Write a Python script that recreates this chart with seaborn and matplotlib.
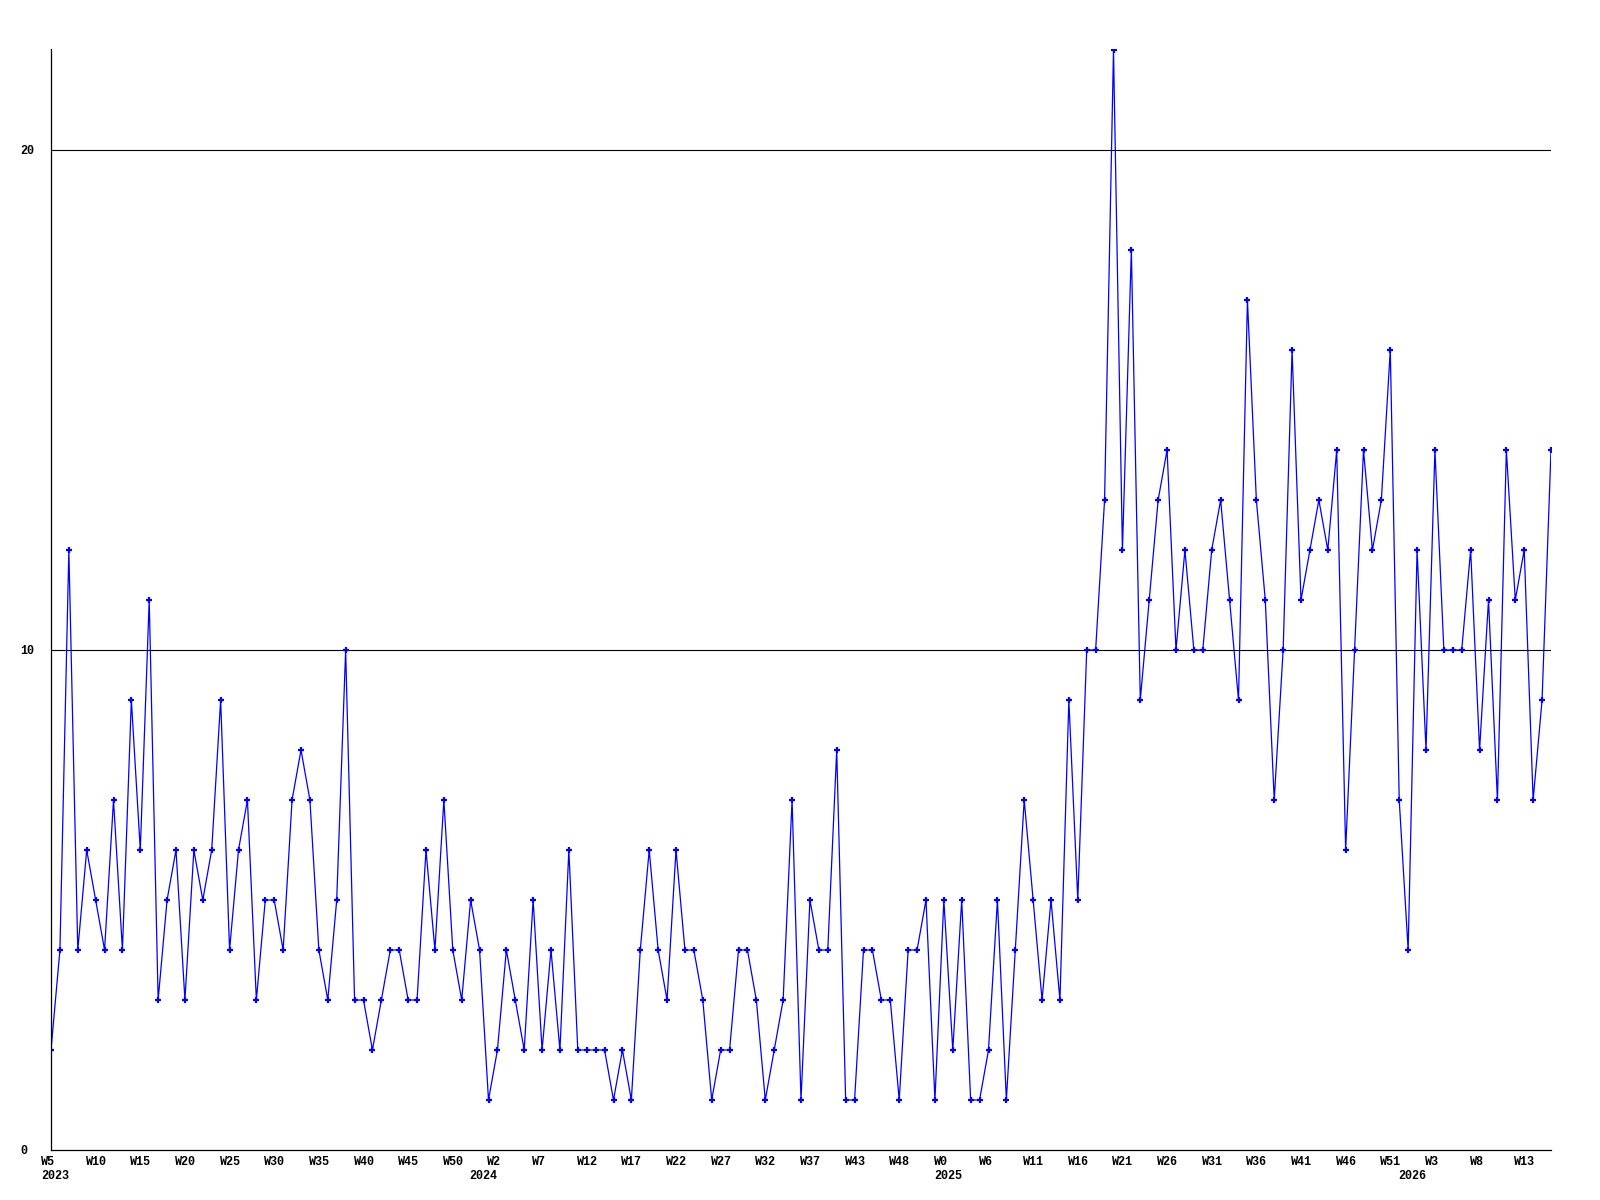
import numpy as np
import pandas as pd
import matplotlib
matplotlib.use("Agg")
import matplotlib.pyplot as plt
import matplotlib.transforms as mtransforms
from matplotlib.transforms import ScaledTranslation
import seaborn as sns

# ---- data ----
values = [2, 4, 12, 4, 6, 5, 4, 7, 4, 9,
          6, 11, 3, 5, 6, 3, 6, 5, 6, 9,
          4, 6, 7, 3, 5, 5, 4, 7, 8, 7,
          4, 3, 5, 10, 3, 3, 2, 3, 4, 4,
          3, 3, 6, 4, 7, 4, 3, 5, 4, 1,
          2, 4, 3, 2, 5, 2, 4, 2, 6, 2,
          2, 2, 2, 1, 2, 1, 4, 6, 4, 3,
          6, 4, 4, 3, 1, 2, 2, 4, 4, 3,
          1, 2, 3, 7, 1, 5, 4, 4, 8, 1,
          1, 4, 4, 3, 3, 1, 4, 4, 5, 1,
          5, 2, 5, 1, 1, 2, 5, 1, 4, 7,
          5, 3, 5, 3, 9, 5, 10, 10, 13, 22,
          12, 18, 9, 11, 13, 14, 10, 12, 10, 10,
          12, 13, 11, 9, 17, 13, 11, 7, 10, 16,
          11, 12, 13, 12, 14, 6, 10, 14, 12, 13,
          16, 7, 4, 12, 8, 14, 10, 10, 10, 12,
          8, 11, 7, 14, 11, 12, 7, 9, 14]

week_labels = ["W5", "W10", "W15", "W20", "W25", "W30", "W35", "W40", "W45", "W50",
               "W2", "W7", "W12", "W17", "W22", "W27", "W32", "W37", "W43", "W48",
               "W0", "W6", "W11", "W16", "W21", "W26", "W31", "W36", "W41", "W46",
               "W51", "W3", "W8", "W13"]
label_step = 5
years = ["2023", "2024", "2025", "2026"]
year_start_idx = [0, 48, 100, 152]
y_ticks = [0, 10, 20]

# ---- style ----
sns.set_theme(style="white")
plt.rcParams["font.family"] = ["Liberation Mono", "DejaVu Sans Mono"]

fig = plt.figure(figsize=(16, 12), dpi=100)
fig.patch.set_facecolor("white")
ax = fig.add_axes([51 / 1600, 50 / 1200, 1500 / 1600, 1101 / 1200])
ax.set_facecolor("white")

df = pd.DataFrame({"idx": np.arange(len(values)), "count": values})

for yv in [10, 20]:
    ax.axhline(yv, color="black", lw=0.8, zorder=0)

sns.lineplot(data=df, x="idx", y="count", ax=ax, color="#0000ff",
             linewidth=0.9, marker="+", markersize=5,
             markeredgewidth=1.6, markeredgecolor="#0000ff")

ax.set_xlim(0, len(values) - 1)
ax.set_ylim(0, 22.02)
ax.set_xlabel("")
ax.set_ylabel("")

for s in ["top", "right"]:
    ax.spines[s].set_visible(False)
for s in ["left", "bottom"]:
    ax.spines[s].set_color("black")
    ax.spines[s].set_linewidth(0.9)

# x tick labels (left-aligned, slightly shifted left)
ax.set_xticks(np.arange(0, len(values), label_step)[:len(week_labels)])
ax.set_xticklabels(week_labels, fontsize=8.5, fontweight="bold", color="black")
ax.tick_params(axis="x", length=0, pad=4)
off = ScaledTranslation(-10 / 100, 0, fig.dpi_scale_trans)
for lbl in ax.get_xticklabels():
    lbl.set_ha("left")
    lbl.set_transform(lbl.get_transform() + off)

# y tick labels
ax.set_yticks(y_ticks)
ax.set_yticklabels([str(v) for v in y_ticks], fontsize=8.5, fontweight="bold", color="black")
ax.tick_params(axis="y", length=0, pad=22.3)
for lbl in ax.get_yticklabels():
    lbl.set_ha("left")

# year labels
blend = mtransforms.blended_transform_factory(ax.transData, ax.transAxes)
yoff = ScaledTranslation(-10 / 100, -20 / 100, fig.dpi_scale_trans)
for yr, i in zip(years, year_start_idx):
    ax.text(i, 0, yr, transform=blend + yoff, ha="left", va="top",
            fontsize=8.5, fontweight="bold", color="black")

fig.savefig("out.png", dpi=100, facecolor="white")
